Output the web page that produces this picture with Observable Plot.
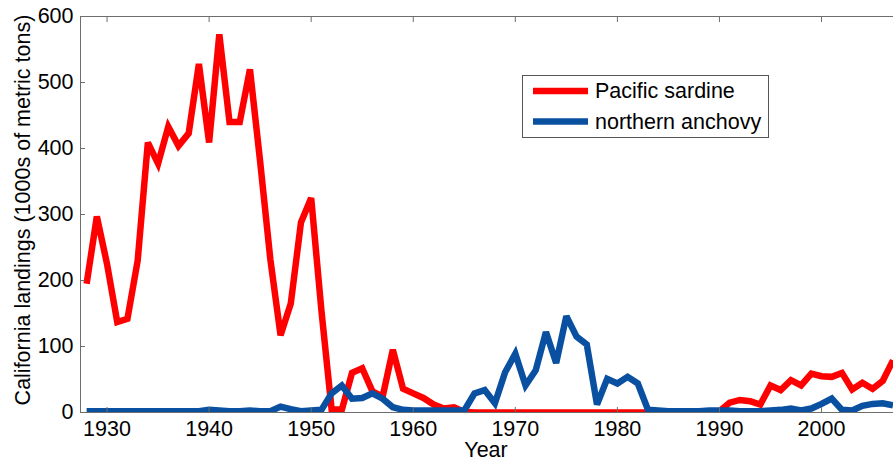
<!DOCTYPE html>
<html><head><meta charset="utf-8">
<script src="https://cdn.jsdelivr.net/npm/d3@7"></script>
<script src="https://cdn.jsdelivr.net/npm/@observablehq/plot@0.6"></script>
<style>body{margin:0;background:#fff}#chart svg{display:block}</style>
</head><body><div id="chart"></div>
<script>
const years = [1928,1929,1930,1931,1932,1933,1934,1935,1936,1937,1938,1939,1940,1941,1942,1943,1944,1945,1946,1947,
1948,1949,1950,1951,1952,1953,1954,1955,1956,1957,1958,1959,1960,1961,1962,1963,1964,1965,1966,1967,
1968,1969,1970,1971,1972,1973,1974,1975,1976,1977,1978,1979,1980,1981,1982,1983,1984,1985,1986,1987,
1988,1989,1990,1991,1992,1993,1994,1995,1996,1997,1998,1999,2000,2001,2002,2003,2004,2005,2006,2007];
const sardine = [195,297,225,137,142,230,409,377,433,404,423,528,409,573,440,440,520,380,232,117,
165,288,325,155,5,4,60,67,32,24,95,36,29,22,12,6,8,1,0,0,
0,0,0,0,0,0,0,0,0,0,0,0,0,0,0,0,0,0,0,0,
0,0,2,15,19,17,12,41,34,49,41,59,55,54,60,35,45,36,48,79];
const anchovy = [2,2,2,2,2,2,2,2,2,2,2,2,4,3,2,2,3,2,2,9,
5,2,3,4,29,41,21,22,29,21,8,4,3,3,3,3,3,3,29,34,
14,61,89,41,64,122,75,146,115,103,12,51,44,54,44,4,3,2,2,2,
2,3,3,3,2,2,2,3,4,6,3,6,13,21,4,3,10,13,14,11];
const seriesNames = ["Pacific sardine", "northern anchovy"];
const seriesColors = ["#ff0000", "#0a50a1"];
const xTicks = [1930,1940,1950,1960,1970,1980,1990,2000];
const yTicks = [0,100,200,300,400,500,600];
const xTitle = "Year";
const yTitle = "California landings (1000s of metric tons)";

const font = "'Liberation Sans', Arial, Helvetica, sans-serif";
const fs = 21.5;
const axisGray = "#6e6e6e";
const lineOpts = {strokeWidth: 6.5, clip: true, strokeLinejoin: "miter", strokeMiterlimit: 3, strokeLinecap: "butt"};

const chart = Plot.plot({
  width: 893, height: 463,
  marginLeft: 80, marginRight: 0, marginTop: 16, marginBottom: 51,
  style: {fontFamily: font, fontSize: fs + "px", color: "#000", background: "#fff"},
  x: {domain: [1927.4, 2007.05]},
  y: {domain: [0, 600]},
  marks: [
    Plot.lineY(sardine, {x: (d, i) => years[i], y: d => d, stroke: seriesColors[0], ...lineOpts}),
    Plot.lineY(anchovy, {x: (d, i) => years[i], y: d => d, stroke: seriesColors[1], ...lineOpts}),
    Plot.frame({anchor: "bottom", stroke: axisGray}),
    Plot.frame({anchor: "top", stroke: axisGray}),
    Plot.frame({anchor: "left", stroke: axisGray}),
    Plot.axisX({ticks: xTicks, tickSize: -5, tickPadding: 13, tickFormat: d => String(d), label: null, stroke: axisGray, fill: "#000"}),
    Plot.axisX({anchor: "top", ticks: xTicks, tickSize: -5, tickFormat: () => "", label: null, stroke: axisGray}),
    Plot.axisY({ticks: yTicks, tickSize: -5, tickPadding: 12, tickFormat: d => String(d), label: null, stroke: axisGray, fill: "#000"})
  ]
});

const svg = d3.select(chart);
svg.append("text").attr("x", 486).attr("y", 457).attr("text-anchor", "middle")
  .attr("font-family", font).attr("font-size", fs).attr("fill", "#000").text(xTitle);
svg.append("text").attr("transform", "translate(22,210) rotate(-90)").attr("dy", "0.35em")
  .attr("text-anchor", "middle").attr("font-family", font).attr("font-size", fs).attr("fill", "#000").text(yTitle);

const lg = svg.append("g");
lg.append("rect").attr("x", 522.5).attr("y", 75.5).attr("width", 246).attr("height", 62)
  .attr("fill", "#fff").attr("stroke", "#555");
seriesNames.forEach((name, i) => {
  const cy = 91 + i * 30.5;
  lg.append("line").attr("x1", 533).attr("x2", 588).attr("y1", cy).attr("y2", cy)
    .attr("stroke", seriesColors[i]).attr("stroke-width", 6.5);
  lg.append("text").attr("x", 595).attr("y", cy + 7).attr("text-anchor", "start")
    .attr("font-family", font).attr("font-size", fs).attr("fill", "#000").text(name);
});

document.getElementById("chart").appendChild(chart);
</script></body></html>
